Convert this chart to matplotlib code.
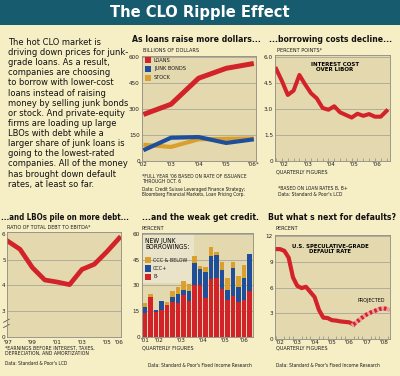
import matplotlib
matplotlib.use("Agg")
import matplotlib.pyplot as plt
from matplotlib.patches import Rectangle

plt.rcParams["font.family"] = ["DejaVu Sans"]
plt.rcParams["font.stretch"] = "condensed"

# ---- data ----
issue_years = [2002, 2003, 2004, 2005, 2006]
issue_labels = ["'02", "'03", "'04", "'05", "'06*"]
loans = [268, 327, 477, 534, 562]
junk_bonds = [62, 134, 138, 104, 125]
stock = [94, 81, 125, 128, 130]

libor_q = [2001.75 + 0.25 * i for i in range(20)]
libor_spread = [5.3, 4.6, 3.8, 4.05, 4.95, 4.4, 3.9, 3.6, 3.05, 2.95,
                3.15, 2.8, 2.65, 2.5, 2.72, 2.6, 2.7, 2.55, 2.55, 2.88]

lbo_years = list(range(1997, 2007))
debt_ebitda = [5.72, 5.4, 4.69, 4.21, 4.13, 4.03, 4.62, 4.82, 5.3, 5.83]

bar_b_minus = [14, 23.5, 14.8, 15.8, 18.5, 20.4, 20, 24.6, 21.2, 30,
               30, 22.7, 33.5, 34.2, 28, 21.7, 23.7, 20.4, 21.7, 26.8]
bar_ccc_plus = [3.3, 0, 1.0, 5.4, 0, 2.6, 5.2, 2.9, 5.3, 12.9,
                9.4, 15.3, 13.8, 13.4, 11, 5.8, 16.3, 8.4, 12.9, 21.2]
bar_ccc_below = [2.5, 1.3, 0, 0, 1.9, 3.5, 4.0, 5.2, 4.5, 4.4,
                 2.1, 3.0, 5.2, 1.7, 4.8, 6.7, 3.8, 6.4, 7.4, 0]

dflt_q = [2001.75 + 0.25 * i for i in range(19)]
default_rate = [10.5, 10.5, 10.3, 9.5, 7.2, 6.2, 5.95, 6.1, 5.5, 4.9,
                3.4, 2.5, 2.45, 2.2, 2.15, 2.05, 2.0, 1.95, 1.7]
proj_q = [2006.25 + 0.25 * i for i in range(9)]
projected = [1.7, 2.1, 2.5, 2.85, 3.1, 3.3, 3.5, 3.6, 3.45]

# ---- style ----
W, H = 400, 376
PAGE = "#f6efc6"
PLOT = "#e4d9ae"
TEAL = "#165b6e"
RED = "#d2232a"
BLUE = "#1f4f9b"
ORANGE = "#d9a02e"
GRID = "#a9a597"

fig = plt.figure(figsize=(W / 100, H / 100), dpi=100, facecolor=PAGE)


def fx(x):
    return x / W


def fy(y):
    return 1 - y / H


def px_axes(l, t, r, b):
    ax = fig.add_axes([fx(l), fy(b), (r - l) / W, (b - t) / H])
    ax.set_facecolor(PLOT)
    for s in ax.spines.values():
        s.set_color("#8d8a80")
        s.set_linewidth(0.6)
    ax.tick_params(axis="both", labelsize=4.6, length=0, pad=1.5, colors="#222222")
    ax.tick_params(axis="x", pad=1)
    ax.yaxis.grid(True, color=GRID, linewidth=0.6)
    ax.set_axisbelow(True)
    return ax


def ftext(x, y, s, **kw):
    kw.setdefault("fontsize", 4.0)
    kw.setdefault("color", "#1a1a1a")
    kw.setdefault("va", "top")
    return fig.text(fx(x), fy(y), s, **kw)


# title bar
fig.patches.append(Rectangle((0, fy(25)), 1, 25 / H, transform=fig.transFigure,
                             facecolor=TEAL, edgecolor="none", zorder=0))
fig.text(0.5, fy(13), "The CLO Ripple Effect", ha="center", va="center",
         color="white", fontsize=11.8, fontweight="bold")

# intro text
intro = ("The hot CLO market is\ndriving down prices for junk-\ngrade loans. As a result,\n"
         "companies are choosing\nto borrow with lower-cost\nloans instead of raising\n"
         "money by selling junk bonds\nor stock. And private-equity\nfirms are loading up large\n"
         "LBOs with debt while a\nlarger share of junk loans is\ngoing to the lowest-rated\n"
         "companies. All of the money\nhas brought down default\nrates, at least so far.")
ftext(8, 38, intro, fontsize=6.7, linespacing=1.16, color="#111111")

# panel titles
tkw = dict(fontsize=6.2, fontweight="bold", va="center", color="#111111")
ftext(196, 40, "As loans raise more dollars...", ha="center", **tkw)
ftext(331, 40, "...borrowing costs decline...", ha="center", **tkw)
ftext(65, 217, "...and LBOs pile on more debt...", ha="center",
      **dict(tkw, fontsize=5.7))
ftext(200, 217, "...and the weak get credit.", ha="center", **tkw)
ftext(332, 217, "But what s next for defaults?", ha="center", **tkw)

# ---- loans vs bonds vs stock ----
ax1 = px_axes(142, 56, 256, 161)
ax1.plot(issue_years, stock, color=ORANGE, lw=3.0, solid_capstyle="butt")
ax1.plot(issue_years, junk_bonds, color=BLUE, lw=3.0, solid_capstyle="butt")
ax1.plot(issue_years, loans, color=RED, lw=3.6, solid_capstyle="butt")
ax1.set_xlim(2001.95, 2006.08)
ax1.set_ylim(0, 605)
ax1.set_yticks([0, 150, 300, 450, 600])
ax1.set_xticks(issue_years)
ax1.set_xticklabels(issue_labels)
ftext(143, 48, "BILLIONS OF DOLLARS")
for i, (lab, col) in enumerate([("LOANS", RED), ("JUNK BONDS", BLUE), ("STOCK", ORANGE)]):
    yy = 60 + i * 8.8
    fig.patches.append(Rectangle((fx(145), fy(yy + 3)), 6 / W, 6 / H,
                                 transform=fig.transFigure, facecolor=col, edgecolor="none"))
    ftext(154, yy, lab, fontsize=4.1, va="center")
ftext(142, 174, "*FULL YEAR '06 BASED ON RATE OF ISSUANCE\nTHROUGH OCT. 6", fontsize=3.6, linespacing=1.05)
ftext(142, 187, "Data: Credit Suisse Leveraged Finance Strategy;\nBloomberg Financial Markets, Loan Pricing Corp.",
      fontsize=3.4, linespacing=1.1)

# ---- interest cost over LIBOR ----
ax2 = px_axes(275, 55, 390, 161)
ax2.plot(libor_q, libor_spread, color=RED, lw=2.9, solid_joinstyle="round")
ax2.set_xlim(2001.7, 2006.65)
ax2.set_ylim(0, 6.1)
ax2.set_yticks([0, 1.5, 3.0, 4.5, 6.0])
ax2.set_yticklabels(["0", "1.5", "3.0", "4.5", "6.0"])
ax2.set_xticks([2002.1, 2003.1, 2004.1, 2005.1, 2006.1])
ax2.set_xticklabels(["'02", "'03", "'04", "'05", "'06"])
ax2.set_xticks([2001.75 + 0.25 * i for i in range(20)], minor=True)
ax2.tick_params(axis="x", which="minor", direction="in", length=2.5, color="#8d8a80", width=0.5)
ax2.text(0.52, 0.93, "INTEREST COST\nOVER LIBOR", transform=ax2.transAxes, ha="center", va="top",
         fontsize=4.4, fontweight="bold", linespacing=0.95)
ftext(277, 48, "PERCENT POINTS*")
ftext(276, 169, "QUARTERLY FIGURES")
ftext(278, 186, "*BASED ON LOAN RATES B, B+\nData: Standard & Poor's LCD", fontsize=3.6, linespacing=1.3)

# ---- debt / EBITDA ----
ax3 = px_axes(7, 232, 121, 337)
ax3.plot(lbo_years, debt_ebitda, color=RED, lw=3.4, solid_joinstyle="round")
ax3.set_xlim(1996.95, 2006.15)
ax3.set_ylim(2.0, 6.07)
ax3.set_yticks([2.0, 3, 4, 5, 6])
ax3.set_yticklabels(["0", "3", "4", "5", "6"])
ax3.tick_params(axis="y", pad=1)
ax3.tick_params(axis="x", pad=2)
ax3.yaxis.grid(False)
for g in [3, 4, 5]:
    ax3.axhline(g, color=GRID, lw=0.6, zorder=0)
ax3.set_xticks([1997, 1999, 2001, 2003, 2005, 2006])
ax3.set_xticklabels(["'97", "'99", "'01", "'03", "'05", "'06"])
for dy in (0, 0.05):
    ax3.plot([-0.03, 0.02], [0.09 + dy, 0.12 + dy], transform=ax3.transAxes,
             color="#555555", lw=0.6, clip_on=False)
ftext(7, 225, "RATIO OF TOTAL DEBT TO EBITDA*", fontsize=3.9)
ftext(5, 346, "*EARNINGS BEFORE INTEREST, TAXES,\nDEPRECIATION, AND AMORTIZATION", fontsize=3.7, linespacing=1.05)
ftext(5, 361, "Data: Standard & Poor's LCD", fontsize=3.5)

# ---- new junk borrowings ----
ax4 = px_axes(142, 233, 253, 337)
pos = list(range(len(bar_b_minus)))
bot2 = [a + b for a, b in zip(bar_b_minus, bar_ccc_plus)]
ax4.add_patch(Rectangle((-0.55, 31.5), 9.4, 30, facecolor="#e9e3c9", edgecolor="none", zorder=0.5))
ax4.bar(pos, bar_b_minus, width=0.78, color=RED, zorder=2)
ax4.bar(pos, bar_ccc_plus, width=0.78, bottom=bar_b_minus, color=BLUE, zorder=2)
ax4.bar(pos, bar_ccc_below, width=0.78, bottom=bot2, color=ORANGE, zorder=2)
ax4.set_xlim(-0.55, 19.65)
ax4.set_ylim(0, 60.5)
ax4.set_yticks([0, 15, 30, 45, 60])
ax4.set_xticks([0, 2.5, 6.5, 10.5, 14.5, 18])
ax4.set_xticklabels(["'01", "'02", "'03", "'04", "'05", "'06"])
ax4.set_xticks([0.5, 4.5, 8.5, 12.5, 16.5], minor=True)
ax4.tick_params(axis="x", which="minor", direction="in", length=3, color="#555555", width=0.5)
ax4.text(0.03, 0.95, "NEW JUNK\nBORROWINGS:", transform=ax4.transAxes, ha="left", va="top",
         fontsize=4.8, linespacing=0.95, zorder=3)
for i, (lab, col) in enumerate([("CCC & BELOW", ORANGE), ("CCC+", BLUE), ("B-", RED)]):
    yy = 260 + i * 8.5
    fig.patches.append(Rectangle((fx(145), fy(yy + 3.2)), 6 / W, 6.4 / H,
                                 transform=fig.transFigure, facecolor=col, edgecolor="none", zorder=5))
    ftext(153, yy, lab, fontsize=3.9, va="center", zorder=5)
ftext(142, 226, "PERCENT")
ftext(142, 345, "QUARTERLY FIGURES")
ftext(148, 363, "Data: Standard & Poor's Fixed Income Research", fontsize=3.5)

# ---- default rate ----
ax5 = px_axes(275, 235, 390, 339)
ax5.plot(dflt_q, default_rate, color=RED, lw=3.0, solid_joinstyle="round")
ax5.plot(proj_q, projected, color="#eaa0a0", lw=3.0)
ax5.plot(proj_q, projected, color=RED, lw=3.0, linestyle=(0, (0.6, 0.6)))
ax5.set_xlim(2001.71, 2008.36)
ax5.set_ylim(0, 12.15)
ax5.set_yticks([0, 3, 6, 9, 12])
ax5.set_xticks([2002, 2003, 2004, 2005, 2006, 2007, 2008])
ax5.set_xticklabels(["'02", "'03", "'04", "'05", "'06", "'07", "'08"])
ax5.set_xticks([2001.75 + 0.25 * i for i in range(27)], minor=True)
ax5.tick_params(axis="x", which="minor", direction="in", length=2.5, color="#8d8a80", width=0.5)
ax5.text(0.48, 0.91, "U.S. SPECULATIVE-GRADE\nDEFAULT RATE", transform=ax5.transAxes, ha="center",
         va="top", fontsize=4.2, fontweight="bold", linespacing=0.95)
ax5.text(2007.25, 4.5, "PROJECTED", ha="center", va="center", fontsize=3.9)
ftext(276, 226, "PERCENT")
ftext(276, 346, "QUARTERLY FIGURES")
ftext(276, 363, "Data: Standard & Poor's Fixed Income Research", fontsize=3.5)

fig.savefig("out.png", dpi=100, facecolor=PAGE)
